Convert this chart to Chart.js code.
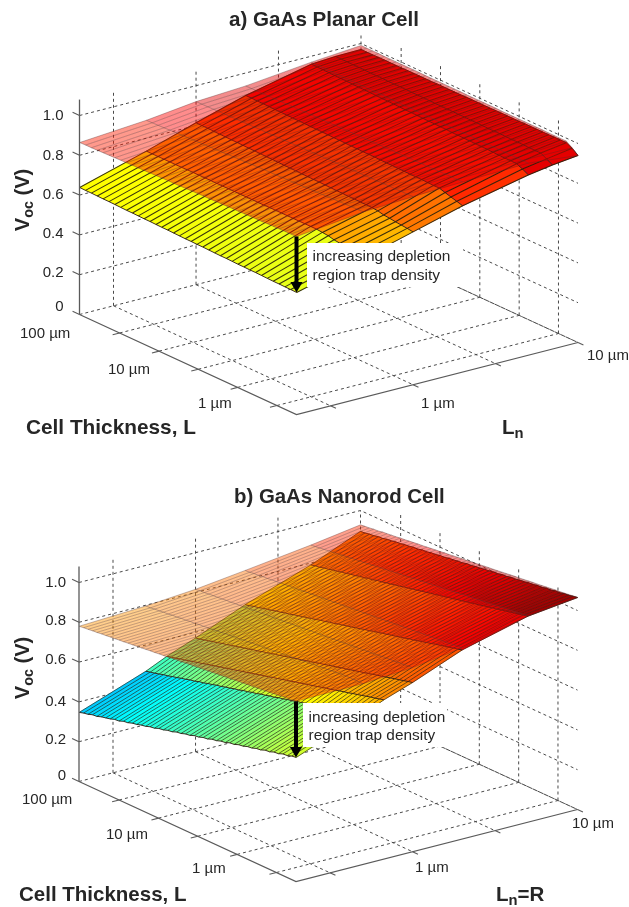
<!DOCTYPE html>
<html><head><meta charset="utf-8">
<style>
html,body{margin:0;padding:0;background:#fff;width:629px;height:907px;overflow:hidden}
canvas{position:absolute;left:0;filter:blur(.45px)}
#layer{position:absolute;left:0;top:0;width:629px;height:907px;font-family:"Liberation Sans",Arial,sans-serif;color:#262626}
#layer div{position:absolute;white-space:nowrap;line-height:1}
#layer .box{background:#fff}
sub{font-size:.72em;vertical-align:-.28em;line-height:0}
</style>
<script src="https://cdn.jsdelivr.net/npm/chart.js@4"></script>
</head><body>
<canvas id="chartA" width="629" height="453" style="top:0"></canvas>
<canvas id="chartB" width="629" height="454" style="top:453px"></canvas>
<div id="layer"></div>
<script>
// ---------- axis ticks ----------
const vocTicks = [0, 0.2, 0.4, 0.6, 0.8, 1.0];
const thicknessTicks = [100, 31.6, 10, 3.16, 1];     // L, um
const diffusionTicks = [0.316, 1, 3.16, 10];         // Ln, um
// ---------- Ln grid (um) for each surface column ----------
const lnLowerA = [0.197, 0.5, 1, 2, 5, 7, 10];
const lnUpperA = [0.197, 0.5, 1, 2, 5, 10];
const lnLowerB = [0.197, 0.5, 0.67, 1, 2, 5, 10];
const lnUpperB = [0.197, 0.5, 1, 2, 5, 10];
// ---------- Voc (mV): one row per cell thickness, thick -> thin ----------
const vocLowerA = [
[638,735,814,887,960,968,970],[637,735,813,887,959,968,970],[637,735,813,886,959,968,970],[636,735,812,886,958,967,971],
[635,735,811,885,957,967,971],[635,735,811,884,956,967,971],[634,735,810,884,956,966,971],
[633,736,810,883,955,966,971],[632,736,809,883,954,966,972],[632,736,808,882,953,965,972],
[631,736,808,882,953,965,972],[630,736,807,881,952,965,972],[630,736,806,881,951,965,972],[629,736,806,880,951,964,973],
[628,736,805,880,950,964,973],[628,736,804,879,949,964,973],[627,736,804,879,948,963,973],
[626,736,803,878,948,963,973],[625,736,802,877,947,963,974],[625,736,802,877,946,962,974],
[624,736,801,876,945,962,974],[624,737,801,876,945,962,974],[623,737,800,876,944,962,974],[622,737,799,875,944,961,975],
[621,737,798,874,942,961,975],[621,737,798,874,942,961,975],[620,737,797,873,941,960,975],
[619,737,797,873,941,960,975],[619,737,796,872,940,960,976],[618,737,796,872,939,960,976],[618,734,795,872,939,959,976],
[617,731,792,871,938,959,976],[616,724,785,870,937,959,976],[615,720,782,870,936,958,977],
[615,716,778,861,936,958,977],[614,711,775,852,935,958,977],[614,706,772,844,922,942,962],[613,700,768,835,906,925,940]];
const vocUpperA = [
[864,890,920,935,970,990],[865,891,921,935,970,990],[865,892,921,936,970,990],[866,893,922,936,970,990],
[867,895,923,937,969,989],[868,896,923,938,969,989],[869,897,924,938,969,989],
[870,898,925,939,969,989],[871,900,926,940,969,989],[872,901,926,940,969,989],
[872,902,927,941,969,989],[873,903,928,941,969,988],[874,904,928,942,969,988],[875,905,929,942,968,988],
[876,907,930,943,968,988],[877,908,930,943,968,988],[877,909,931,944,968,988],
[878,910,932,944,968,988],[879,912,933,945,968,987],[880,913,933,946,968,987],
[881,914,934,946,968,987],[882,915,935,947,967,987],[882,915,935,947,967,987],[883,916,936,948,967,987],
[884,918,937,949,967,986],[885,919,937,949,967,986],[886,920,938,950,967,986],
[886,921,939,950,967,986],[887,922,939,951,967,986],[888,923,940,951,966,986],[889,924,940,952,966,986],
[889,925,941,952,966,986],[891,927,942,953,966,985],[891,928,943,954,966,985],
[892,929,943,954,965,985],[893,930,944,955,965,985],[893,931,944,955,965,965],[894,932,945,955,965,940]];
const vocLowerB = [
[347,468,516,571,675,790,895],[354,474,522,576,680,796,897],[358,479,527,582,687,799,902],[366,485,534,588,691,806,904],
[368,492,539,594,698,809,910],[376,496,545,599,703,816,911],[381,503,551,606,708,819,917],[386,508,557,610,715,826,919],
[394,515,562,617,719,829,924],[396,520,569,622,726,836,926],[405,527,574,628,730,839,931],[408,531,580,634,737,846,933],
[416,539,586,639,742,849,938],[420,543,591,646,748,856,939],[427,550,598,650,753,859,945],[431,555,603,657,759,866,946],
[439,562,609,662,764,869,951],[442,566,615,668,771,875,953],[451,573,620,674,775,879,958],[454,578,627,679,782,885,959],
[462,585,632,685,786,889,965],[465,589,638,691,793,895,967],[474,597,644,696,798,899,971],[477,601,649,703,804,905,973],
[485,608,656,707,809,909,979],[488,612,661,714,815,915,980],[497,620,667,719,820,919,985],[500,624,673,725,827,925,987],
[508,631,678,731,831,929,992],[511,635,685,736,838,935,994],[520,643,690,742,843,939,999],[523,647,696,748,849,945,1000],
[531,654,702,753,854,949,1006],[534,658,707,760,860,955,1007],[543,666,713,764,865,959,1013],[545,670,719,771,871,965,1014],
[554,677,725,776,876,969,1019],[557,681,730,782,883,975,1021],[565,689,736,787,887,979,1026],[568,693,742,793,894,985,1028],
[576,700,748,799,899,989,1033],[579,704,753,805,905,995,1034],[588,712,760,810,910,999,1040],[590,716,765,816,917,1005,1041],
[599,723,771,822,922,1010,1047],[601,727,777,828,928,1015,1048],[610,735,783,833,933,1020,1054],[612,739,788,839,939,1025,1056],
[620,746,794,845,944,1030,1061],[623,752,800,850,950,1035,1065]];
const vocUpperB = [
[780,796,816,847,890,928],[783,797,819,848,893,931],[785,801,820,852,896,933],[788,802,823,853,899,937],
[790,806,825,857,902,938],[793,807,827,858,905,943],[795,811,829,861,908,945],[798,812,832,863,911,948],
[800,816,833,866,914,950],[803,817,836,868,917,954],[805,821,838,871,920,956],[808,822,840,872,923,959],
[810,826,843,875,926,962],[813,827,845,877,929,965],[815,831,847,880,932,967],[818,832,849,882,935,970],
[821,836,852,884,938,973],[823,837,853,886,941,976],[826,841,856,889,944,978],[828,842,858,891,947,982],
[831,846,860,893,950,984],[833,847,862,896,953,987],[836,851,865,898,956,990],[838,852,867,900,959,993],
[841,856,869,903,962,995],[844,857,871,905,965,999],[846,861,874,907,968,1001],[849,862,876,910,971,1004],
[851,866,878,912,974,1007],[854,867,880,914,977,1010],[856,871,883,916,980,1012],[859,872,885,919,983,1015],
[861,876,887,921,986,1018],[864,877,889,923,989,1021],[866,881,892,926,992,1024],[869,882,894,928,995,1027],
[872,886,896,930,998,1029],[874,887,898,933,1001,1032],[877,891,901,935,1004,1035],[879,892,903,937,1007,1038],
[882,896,905,940,1010,1040],[884,897,907,942,1013,1043],[887,901,910,944,1016,1046],[889,902,912,946,1019,1049],
[892,906,914,949,1022,1052],[895,907,916,951,1025,1054],[897,908,919,953,1028,1057],[900,908,921,956,1031,1060],
[902,908,923,958,1034,1063],[905,908,925,960,1037,1066]];

// ---------- 3-D view ----------
const view = {lnX:281.5, lnY:-72, lX:217, lY:100, zS:199};
const uOf = ln => Math.max(0, Math.min(1.03, 0.414 + 0.586*Math.log10(ln)));
const vOf = l => 0.185 + 0.3625*(2 - Math.log10(l));
function jet(t){
  const c = x => Math.max(0, Math.min(1, x));
  const r = c(t<0.875 ? (t-0.375)*4 : 1-(t-0.875)*4);
  const g = c(t<0.5 ? (t-0.125)*4 : (0.875-t)*4);
  const b = c(t<0.375 ? (t+0.125)*4 : (0.625-t)*4);
  return [r,g,b].map(x=>Math.round(x*255));
}
const polyFill = {
  id:'polyFill',
  beforeDatasetDraw(chart,{meta,index}){
    const ds = chart.data.datasets[index];
    if(!ds.faceColor) return;
    const c = chart.ctx; c.save(); c.beginPath();
    meta.data.forEach((p,i)=> i? c.lineTo(p.x,p.y): c.moveTo(p.x,p.y));
    c.closePath(); c.fillStyle = ds.faceColor; c.fill(); c.restore();
  }
};
function buildPanel(id,P){
  const pr = (u,v,z)=>({x:P.ox+u*view.lnX+v*view.lX, y:P.oy+u*view.lnY+v*view.lY-z*view.zS});
  const sets = [];
  const line = (pts,color,width,dash)=>sets.push({data:pts,showLine:true,borderColor:color,borderWidth:width,borderDash:dash||[],pointRadius:0,fill:false,tension:0});
  // walls and floor
  const gridC='#4a4a4a', d=[3,3];
  vocTicks.forEach(z=>line([pr(0,0,z),pr(1,0,z),pr(1,1,z)],gridC,1,d));
  diffusionTicks.forEach(l=>{const u=uOf(l);
    line([pr(u,0,0),pr(u,1,0)],gridC,1,d);
    line([pr(u,0,0),pr(u,0,u===1?P.backTop:1.08)],gridC,1,d);});
  thicknessTicks.forEach(l=>{const v=vOf(l);
    line([pr(0,v,0),pr(1,v,0)],gridC,1,d);
    line([pr(1,v,0),pr(1,v,1.08)],gridC,1,d);});
  // surfaces
  function surface(rows,cols,alpha,hatchC,hatchW,coarseC,coarseW){
    const n=rows.length, us=cols.map(uOf), vv=i=>i/(n-1);
    for(let i=0;i<n-1;i++) for(let j=0;j<cols.length-1;j++){
      const z=(a,b)=>rows[a][b]/1000;
      const [r,g,b]=jet(Math.min(z(i,j)/P.cScale,P.cMax));
      const col=`rgba(${r},${g},${b},${alpha})`;
      sets.push({data:[pr(us[j],vv(i),z(i,j)),pr(us[j+1],vv(i),z(i,j+1)),pr(us[j+1],vv(i+1),z(i+1,j+1)),pr(us[j],vv(i+1),z(i+1,j))],
        faceColor:col,showLine:true,borderColor:alpha<1?'rgba(0,0,0,0)':col,borderWidth:alpha<1?0:0.6,pointRadius:0,fill:false});
    }
    rows.forEach((row,i)=>line(row.map((zz,j)=>pr(us[j],vv(i),zz/1000)),hatchC,hatchW));
    cols.forEach((c,j)=>line(rows.map((row,i)=>pr(us[j],vv(i),row[j]/1000)),coarseC,coarseW));
  }
  surface(P.lower,P.lnLower,1,P.hatch,P.hatchW,'#2a1a10',0.9);
  surface(P.upper,P.lnUpper,0.45,'rgba(70,40,40,.36)',0.9,'rgba(90,60,60,.45)',0.9);
  // solid axes and ticks
  const axC='#5a5a5a';
  line([pr(0,0,0),pr(0,0,1.08)],axC,1.3);
  line([pr(0,0,0),pr(0,1,0),pr(1,1,0)],axC,1.2);
  vocTicks.forEach(z=>line([pr(0,-0.032,z),pr(0,0,z)],axC,1.1));
  thicknessTicks.forEach(l=>{const v=vOf(l);line([pr(-0.025,v,0),pr(0,v,0)],axC,1.1);});
  diffusionTicks.forEach(l=>{const u=uOf(l);line([pr(u,1,0),pr(u,1.025,0)],axC,1.1);});
  // arrow from upper to lower surface at the thin, short-Ln corner
  const zt=P.upper[P.upper.length-1][0]/1000, zb=P.lower[P.lower.length-1][0]/1000;
  line([pr(0,1,zt),pr(0,1,zb+0.04)],'#000',4);
  sets.push({data:[pr(0,1,zb+0.035)],pointStyle:'triangle',rotation:180,pointRadius:7,pointBackgroundColor:'#000',pointBorderColor:'#000',pointBorderWidth:0,showLine:false});
  sets.forEach((s,i)=>{s.order=-i;});
  return new Chart(document.getElementById(id),{
    type:'scatter',
    data:{datasets:sets},
    plugins:[polyFill],
    options:{responsive:false,animation:false,
      layout:{padding:0,autoPadding:false},
      plugins:{legend:{display:false},tooltip:{enabled:false},title:{display:false}},
      events:[],
      scales:{
        x:{type:'linear',min:0,max:629,display:false},
        y:{type:'linear',min:0,max:P.h,reverse:true,display:false}
      }}
  });
}
buildPanel('chartA',{ox:79.5,oy:314.5,h:453,backTop:1.04,cScale:1.02,cMax:0.9,lower:vocLowerA,upper:vocUpperA,lnLower:lnLowerA,lnUpper:lnUpperA,hatch:'rgba(35,30,8,.9)',hatchW:1.05});
buildPanel('chartB',{ox:79,oy:328.5,h:454,backTop:1.0,cScale:1.07,cMax:1,lower:vocLowerB,upper:vocUpperB,lnLower:lnLowerB,lnUpper:lnUpperB,hatch:'rgba(30,28,14,.72)',hatchW:0.9});

// ---------- text ----------
const layer=document.getElementById('layer');
function T(html,x,y,size,o){o=o||{};
  const e=document.createElement('div');e.innerHTML=html;
  e.style.fontSize=size+'px';e.style.top=y+'px';
  if(o.bold)e.style.fontWeight='bold';
  if(o.right!==undefined){e.style.right=(629-o.right)+'px';}else{e.style.left=x+'px';}
  e.style.transform=o.tf||'translateY(-50%)';
  layer.appendChild(e);return e;}
function box(x,y,w,h){const e=document.createElement('div');e.className='box';e.style.cssText=`left:${x}px;top:${y}px;width:${w}px;height:${h}px`;layer.appendChild(e);}
box(307,243,156,44);box(303,703,144,44);
const vocLabels=['0','0.2','0.4','0.6','0.8','1.0'];
const thickLabels=['100 µm','10 µm','1 µm'], lnLabels=['1 µm','10 µm'];
[305,271,232,193,154,114].forEach((y,i)=>T(vocLabels[i],0,y,15,{right:63.5}));
[774,738,700,658,619,581].forEach((y,i)=>T(vocLabels[i],0,y,15,{right:66}));
[[20,332],[108,368],[198,402]].forEach((p,i)=>T(thickLabels[i],p[0],p[1],15));
[[22,798],[106,833],[192,867]].forEach((p,i)=>T(thickLabels[i],p[0],p[1],15));
T(lnLabels[0],421,402,15);T(lnLabels[1],587,354,15);
T(lnLabels[0],415,866,15);T(lnLabels[1],572,822,15);
T('a) GaAs Planar Cell',229,19,20.6,{bold:true});
T('b) GaAs Nanorod Cell',234,496,20.4,{bold:true});
T('Cell Thickness, L',26,427,20.8,{bold:true});
T('Cell Thickness, L',19,894,20.5,{bold:true});
T('L<sub>n</sub>',502,427,20.5,{bold:true});
T('L<sub>n</sub>=R',496,894,20.5,{bold:true});
T('V<sub>oc</sub> (V)',22,200,20,{bold:true,tf:'translate(-50%,-50%) rotate(-90deg)'});
T('V<sub>oc</sub> (V)',22,668,20,{bold:true,tf:'translate(-50%,-50%) rotate(-90deg)'});
T('increasing depletion',312.5,256,15.5);T('region trap density',312.5,275,15.5);
T('increasing depletion',308.5,717,15.4);T('region trap density',308.5,735,15.4);
</script>
</body></html>
